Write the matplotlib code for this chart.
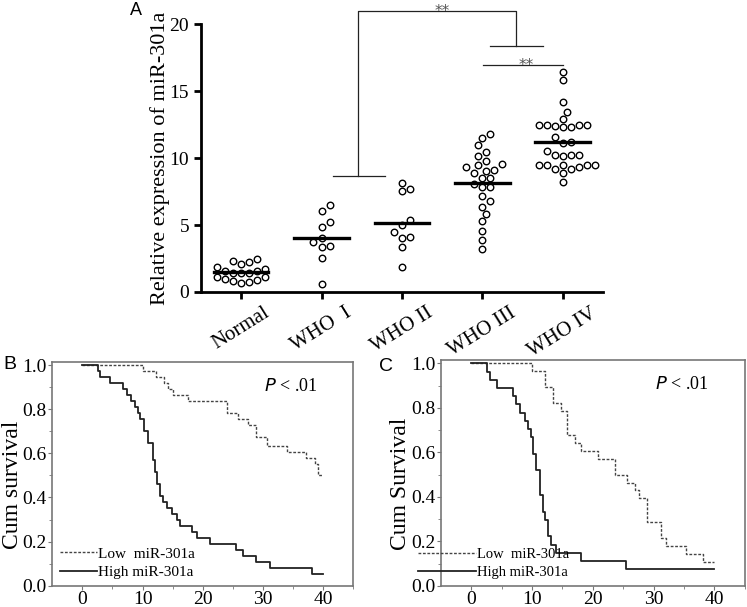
import matplotlib
matplotlib.use("Agg")
import matplotlib.pyplot as plt
import numpy as np

plt.rcParams["font.family"] = "Liberation Serif"

# --- panel A: relative expression per group ---
groups = ["Normal", "WHO  I", "WHO II", "WHO III", "WHO IV"]
normal = [2.34, 2.09, 2.24, 2.44, 1.69, 1.59, 1.40, 1.40, 1.44, 1.59, 1.84,
          1.10, 0.95, 0.80, 0.65, 0.75, 0.90, 1.10]
who1 = [6.49, 6.02, 5.22, 4.83, 4.03, 3.73, 3.33, 3.43, 2.51, 0.62]
who2 = [8.11, 7.51, 7.71, 5.35, 5.03, 4.45, 4.03, 4.13, 3.33, 1.84]
who3 = [11.79, 11.54, 10.95, 10.47, 10.15, 9.55, 9.35, 9.45, 9.75, 9.05,
        8.91, 9.08, 8.51, 8.51, 8.06, 7.81, 7.81, 7.16, 6.81, 6.37, 5.82,
        5.27, 4.58, 3.88, 3.19]
who4 = [16.44, 15.80, 14.18, 13.41, 12.91, 12.46, 12.46, 12.29, 12.29, 12.41,
        12.46, 12.49, 11.59, 11.14, 11.19, 10.20, 10.15, 10.20, 10.20, 10.50,
        9.45, 9.31, 9.16, 9.50, 9.45, 9.16, 9.45, 9.45, 8.86, 8.18]
group_values = [normal, who1, who2, who3, who4]

# --- panel B: Kaplan-Meier (cohort 1) ---
b_low_t = [0, 10.0, 12.2, 13.6, 14.3, 15.1, 17.5, 24.0, 25.9, 27.5, 28.9, 30.6,
           34.0, 37.2, 38.6, 39.2, 40]
b_low_s = [1.0, 0.973, 0.946, 0.919, 0.892, 0.865, 0.838, 0.784, 0.757, 0.730,
           0.676, 0.635, 0.608, 0.581, 0.554, 0.500, 0.500]
b_high_t = [0, 2.54, 2.93, 4.59, 6.80, 7.36, 8.02, 8.74, 9.29, 9.57, 10.24, 10.95,
            11.67, 12.06, 12.34, 12.89, 13.44, 14.0, 14.83, 15.66, 16.21, 18.15,
            18.98, 21.19, 25.5, 26.7, 28.9, 31.1, 38.1, 40]
b_high_s = [1.0, 0.973, 0.946, 0.919, 0.892, 0.865, 0.838, 0.811, 0.784, 0.757,
            0.703, 0.649, 0.568, 0.514, 0.46, 0.405, 0.378, 0.351, 0.324, 0.297,
            0.27, 0.243, 0.216, 0.189, 0.162, 0.135, 0.108, 0.081, 0.054, 0.054]

# --- panel C: Kaplan-Meier (cohort 2) ---
c_low_t = [0, 10.0, 12.1, 13.4, 14.8, 15.7, 17.0, 18.1, 20.9, 23.7, 25.6, 27.0,
           27.6, 28.9, 31.3, 32.0, 35.3, 38.1, 40]
c_low_s = [1.0, 0.964, 0.893, 0.821, 0.786, 0.679, 0.643, 0.607, 0.571, 0.5,
           0.464, 0.429, 0.393, 0.286, 0.214, 0.179, 0.143, 0.107, 0.107]
c_high_t = [0, 2.54, 3.1, 4.3, 6.86, 7.4, 8.1, 8.85, 9.4, 9.85, 10.1, 10.7, 11.4,
            11.8, 12.2, 12.6, 13.2, 14.0, 18.0, 25.4, 40]
c_high_s = [1.0, 0.963, 0.926, 0.889, 0.852, 0.815, 0.778, 0.741, 0.704, 0.667,
            0.593, 0.519, 0.407, 0.333, 0.296, 0.222, 0.185, 0.148, 0.111, 0.074,
            0.074]


def swarm_offsets(values, px_x, px_y, d=8.0):
    """simple beeswarm: offsets in data units along x"""
    order = np.argsort(values)
    placed = []
    offs = np.zeros(len(values))
    for i in order:
        y = values[i] * px_y
        for k in range(0, 40):
            cands = [0.0] if k == 0 else [k * d * 0.5, -k * d * 0.5]
            ok = None
            for c in cands:
                if all((c - px) ** 2 + (y - py) ** 2 >= (d * 0.95) ** 2 for px, py in placed):
                    ok = c
                    break
            if ok is not None:
                break
        placed.append((ok, y))
        offs[i] = ok / px_x
    return offs


fig = plt.figure(figsize=(7.47, 6.07), dpi=100)

# ---------------- panel A ----------------
ax = fig.add_axes([0.269, 0.519, 0.538, 0.441])
ax.set_xlim(0.5, 5.5)
ax.set_ylim(0, 20)
px_x = 80.25  # pixels per category
px_y = 13.4   # pixels per unit
for i, vals in enumerate(group_values):
    vals = np.array(vals)
    xs = i + 1 + swarm_offsets(vals, px_x, px_y)
    ax.scatter(xs, vals, s=22, facecolors="white", edgecolors="black",
               linewidths=1.0, zorder=3, clip_on=False)
    m = vals.mean()
    ax.plot([i + 1 - 0.34, i + 1 + 0.34], [m, m], color="black", lw=2.4, zorder=4)

for s in ["top", "right"]:
    ax.spines[s].set_visible(False)
for s in ["left", "bottom"]:
    ax.spines[s].set_linewidth(2)
ax.tick_params(width=2, length=5, direction="out", labelsize=14)
ax.set_yticks([0, 5, 10, 15, 20])
ax.set_xticks(range(1, 6))
ax.set_xticklabels(groups, rotation=32, ha="center", fontsize=15)
ax.set_ylabel("Relative expression of miR-301a", fontsize=16)
ax.yaxis.set_label_coords(-0.077, 0.5)

# significance brackets
bc = "#222222"
kw = dict(color=bc, lw=0.9, clip_on=False)
ax.plot([2.14, 2.79], [8.63, 8.63], **kw)
ax.plot([2.46, 2.46, 4.42, 4.42], [8.63, 20.97, 20.97, 18.38], **kw)
ax.plot([4.10, 4.75], [18.38, 18.38], **kw)
ax.plot([4.01, 5.0], [16.99, 16.99], **kw)
ax.text(3.50, 20.65, "**", ha="center", va="baseline", fontsize=11, color="#555555",
        family="DejaVu Sans")
ax.text(4.55, 16.62, "**", ha="center", va="baseline", fontsize=11, color="#555555",
        family="DejaVu Sans")
fig.text(0.182, 0.982, "A", family="Liberation Sans", fontsize=13, va="center", ha="center")


# ---------------- survival panels ----------------
def km_panel(rect, lt, ls, ht, hs, ylabel, letter, lpos, leg_x, leg_len, leg_fs):
    a = fig.add_axes(rect)
    a.plot(lt, ls, drawstyle="steps-post", color="#444444", lw=1.0,
           linestyle=(0, (2.0, 1.2)), label="Low  miR-301a")
    a.plot(ht, hs, drawstyle="steps-post", color="#222222", lw=1.3,
           label="High miR-301a")
    a.set_xlim(-5, 45)
    a.set_ylim(0, 1.015)
    a.set_xticks([0, 10, 20, 30, 40])
    a.set_xticks([5, 15, 25, 35, 45], minor=True)
    a.set_yticks([0, 0.2, 0.4, 0.6, 0.8, 1.0])
    a.set_yticklabels(["0.0", "0.2", "0.4", "0.6", "0.8", "1.0"])
    a.set_yticks(np.arange(0.1, 1.0, 0.2), minor=True)
    for s in a.spines.values():
        s.set_color("#777777")
        s.set_linewidth(1.2)
    a.tick_params(axis="x", labelsize=14, color="#777777", length=3, pad=1)
    a.tick_params(axis="y", labelsize=14, color="#777777", length=3, pad=1)
    a.tick_params(which="minor", color="#777777", length=2)
    a.set_ylabel(ylabel, fontsize=17)
    a.yaxis.set_label_coords(-0.098, 0.45)
    a.text(34.6, 0.905, "$P$ < .01", fontsize=13, ha="center", va="center")
    a.legend(loc="lower left", frameon=False, fontsize=leg_fs, handlelength=leg_len,
             handletextpad=0.1, borderaxespad=0.0, borderpad=0.0, labelspacing=0.3,
             bbox_to_anchor=(leg_x, 0.03))
    fig.text(lpos[0], lpos[1], letter, family="Liberation Sans", fontsize=14,
             va="center", ha="center")
    return a


km_panel([0.070, 0.035, 0.403, 0.369], b_low_t, b_low_s, b_high_t, b_high_s,
         "Cum survival", "B", (0.013, 0.399), 0.026, 2.4, 11)
km_panel([0.590, 0.035, 0.407, 0.372], c_low_t, c_low_s, c_high_t, c_high_s,
         "Cum Survival", "C", (0.517, 0.397), -0.076, 4.0, 10.5)

fig.savefig("out.png", dpi=100)
